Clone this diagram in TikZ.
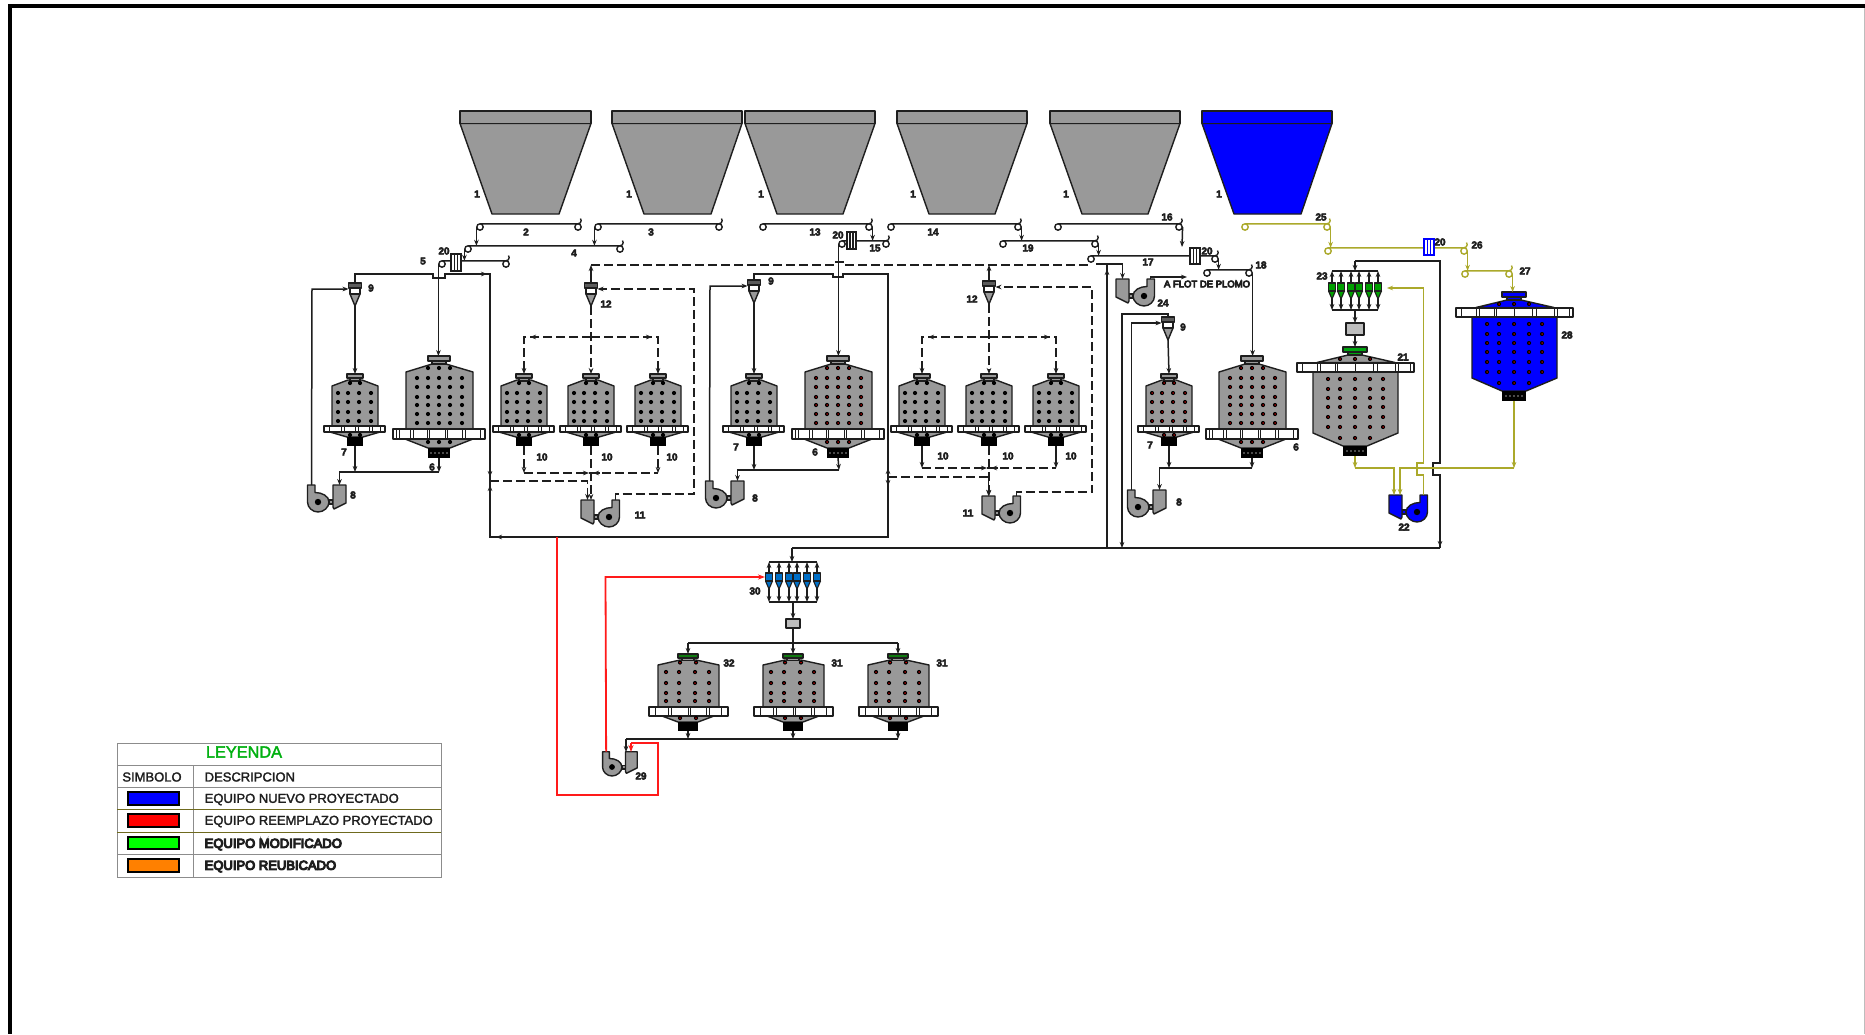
\documentclass[tikz,border=0pt]{standalone}
\usepackage{fontspec}
\setmainfont{Liberation Sans}
\newfontfamily\fbold[FakeBold=8]{Liberation Sans}
\newfontfamily\fmed[FakeBold=2]{Liberation Sans}
\newfontfamily\flab[UprightFont=* Bold,FakeBold=5]{Liberation Sans}
\usetikzlibrary{arrows.meta}
\definecolor{ink}{HTML}{1E1E1E}
\definecolor{eqgray}{HTML}{999999}
\definecolor{olive}{HTML}{ABA92B}
\definecolor{newblue}{HTML}{0000FF}
\definecolor{redline}{HTML}{FF1A1A}
\definecolor{bankblue}{HTML}{0070C8}
\definecolor{bankgreen}{HTML}{00A000}
\definecolor{capgreen}{HTML}{0F7A0F}
\definecolor{capbright}{HTML}{00A510}
\definecolor{legline}{HTML}{8C8C8C}
\definecolor{legolive}{HTML}{6F6A1E}
\definecolor{silver}{HTML}{BDBDBD}
\tikzset{
  x=1pt,y=-1pt,
  eq/.style={draw=ink,line width=1.4pt,line join=round},
  pipe/.style={draw=ink,line width=1.5pt},
  flow/.style={pipe,-{Stealth[length=6pt,width=4.6pt]}},
  dpipe/.style={pipe,dash pattern=on 9pt off 4pt},
  dflow/.style={flow,dash pattern=on 9pt off 4pt},
  ypipe/.style={draw=olive,line width=1.7pt},
  yflow/.style={ypipe,-{Stealth[length=6pt,width=4.6pt]}},
  rpipe/.style={draw=redline,line width=1.8pt},
  rflow/.style={rpipe,-{Stealth[length=7pt,width=5pt]}},
  lbl/.style={font=\flab\fontsize{10}{12}\selectfont,text=ink,inner sep=0pt},
  legt/.style={font=\fmed\fontsize{13}{15}\selectfont,text=ink,inner sep=0pt,anchor=west},
  legb/.style={font=\fbold\fontsize{13}{15}\selectfont,text=ink,inner sep=0pt,anchor=west},
  swatch/.style={draw=black,line width=1.3pt}
}
\newcounter{labn}
\newcommand\lab[3]{\stepcounter{labn}\node[lbl] (lab\arabic{labn}) at (#1,#2) {#3};}
\newcommand\ma[4]{\draw[flow,draw=#4] (#1,#2) -- ++(#3);}
% hopper: name, left x, right x, bottom left x, bottom right x, fill
\newcommand\hopper[6]{
  \filldraw[eq,fill=#6] (#2,123.5) -- (#4,214) -- (#5,214) -- (#3,123.5) -- cycle;
  \filldraw[eq,fill=#6] (#2,111) rectangle (#3,123.5);
  \coordinate (#1) at (#4,214);
}
% belt: name, xl, xr, y, colour
\newcommand\belt[5]{
  \draw[draw=#5,line width=1.4pt] (#2,#4-3.2) -- (#3,#4-3.2) arc[start angle=90,end angle=-40,radius=3.2];
  \draw[draw=#5,line width=1.4pt,fill=white] (#2,#4) circle[radius=3.2];
  \draw[draw=#5,line width=1.4pt,fill=white] (#3,#4) circle[radius=3.2];
  \coordinate (#1-t) at (#2,#4-3.2);
  \coordinate (#1-ld) at (#2-3.6,#4);
  \coordinate (#1-rd) at (#3+3.6,#4);
}
% weigher: name, x1, y1, x2, y2, colour
\newcommand\weigher[6]{
  \filldraw[draw=#6,line width=1.2pt,fill=white] (#2,#3) rectangle (#4,#5);
  \draw[draw=#6,line width=1.2pt] ({(2*#2+#4)/3},#3) -- ({(2*#2+#4)/3},#5) ({(#2+2*#4)/3},#3) -- ({(#2+2*#4)/3},#5);
  \coordinate (#1) at ({(#2+#4)/2},#3);
}
\newcommand\dotm[3]{\fill[black] (#1,#2) circle[radius=2.1]; \fill[#3] (#1,#2) circle[radius=.75];}
% small cell: name, cx, top, inner dot colour
\newcommand\cellS[4]{
 \begin{scope}[shift={(#2,#3)}]
  \filldraw[eq,fill=eqgray] (-25,58) -- (-8,63) -- (8,63) -- (25,58) -- cycle;
  \filldraw[eq,fill=eqgray] (-23,52) -- (-23,12) -- (-7,6) -- (7,6) -- (23,12) -- (23,52) -- cycle;
  \filldraw[eq,fill=eqgray] (-8,0) rectangle (8,4);
  \filldraw[eq,fill=eqgray] (-5,4) rectangle (5,7);
  \filldraw[eq,fill=white] (-31,52) rectangle (30,58);
  \foreach \t in {-26,-14,-11,0,3,14,17,25} \draw[eq,line width=.8pt] (\t,52) -- (\t,58);
  \fill[black] (-8,63) rectangle (8,72);
  \foreach \a in {-17,-7,4,16} \foreach \b in {19,28,38,47} {\dotm{\a}{\b}{#4}}
  \foreach \a in {-5,5} {\dotm{\a}{9}{#4}\dotm{\a}{61}{#4}}
  \coordinate (#1-t) at (0,0); \coordinate (#1-b) at (0,72);
 \end{scope}
}
% large cell
\newcommand\cellL[4]{
 \begin{scope}[shift={(#2,#3)}]
  \filldraw[eq,fill=eqgray] (-34,83) -- (-11,92) -- (11,92) -- (34,83) -- cycle;
  \filldraw[eq,fill=eqgray] (-33,73) -- (-33,16) -- (-7,8) -- (7,8) -- (34,16) -- (34,73) -- cycle;
  \filldraw[eq,fill=eqgray] (-11,0) rectangle (11,5);
  \filldraw[eq,fill=eqgray] (-7,5) rectangle (7,8);
  \filldraw[eq,fill=white] (-46,73) rectangle (46,83);
  \foreach \t in {-43,-40,-29,-26,-12,-10,6,8,23,26,41} \draw[eq,line width=.9pt] (\t,73) -- (\t,83);
  \fill[black] (-11,92) rectangle (11,102);
  \foreach \a in {-8,-4,0,4,8} \fill[eqgray] (\a,97) circle[radius=.8];
  \foreach \a in {-22,-11,0,11,23} \foreach \b in {22,31,41,49,58,67} {\dotm{\a}{\b}{#4}}
  \foreach \a in {-11,0,11} {\dotm{\a}{12}{#4}\dotm{\a}{86}{#4}}
  \coordinate (#1-t) at (0,0); \coordinate (#1-b) at (0,102);
 \end{scope}
}
% cell with high flange: name, cx, top, fill, cap fill
\newcommand\cellF[5]{
 \begin{scope}[shift={(#2,#3)}]
  \filldraw[eq,fill=#4] (-38,15.5) -- (-7,8) -- (7,8) -- (40,15.5) -- cycle;
  \filldraw[eq,fill=#4] (-42,25) -- (43,25) -- (43,86) -- (12,99) -- (-12,99) -- (-42,86) -- cycle;
  \filldraw[eq,fill=#5] (-12,0) rectangle (12,5);
  \filldraw[eq,fill=#5] (-7,5) rectangle (7,8);
  \filldraw[eq,fill=white] (-58,16) rectangle (59,25);
  \foreach \t in {-53,-38,-35,-20,-18,0,18,22,40,43,55} \draw[eq,line width=.9pt] (\t,16) -- (\t,25);
  \fill[black] (-12,99) rectangle (12,109);
  \foreach \a in {-8,-4,0,4,8} \fill[eqgray] (\a,104) circle[radius=.8];
  \foreach \a in {-27,-15,0,15,28} \foreach \b in {32,42,51,60,70,80} {\dotm{\a}{\b}{red}}
  \foreach \a in {-15,0,15} {\dotm{\a}{12}{red}\dotm{\a}{91}{red}}
  \coordinate (#1-t) at (0,0); \coordinate (#1-b) at (0,109);
 \end{scope}
}
% bottom row cell
\newcommand\cellB[3]{
 \begin{scope}[shift={(#2,#3)}]
  \filldraw[eq,fill=eqgray] (-26,62) -- (-10,68) -- (10,68) -- (26,62) -- cycle;
  \filldraw[eq,fill=eqgray] (-30,53) -- (-30,11) -- (-8,6) -- (8,6) -- (31,11) -- (31,53) -- cycle;
  \filldraw[eq,fill=capgreen] (-10,0) rectangle (10,4);
  \filldraw[eq,fill=eqgray] (-6,4) rectangle (6,6.5);
  \filldraw[eq,fill=white] (-39,53) rectangle (40,62);
  \foreach \t in {-33,-20,-17,0,2,18,21,33} \draw[eq,line width=.9pt] (\t,53) -- (\t,62);
  \fill[black] (-10,68) rectangle (10,77);
  \foreach \a in {-22,-9,7,21} \foreach \b in {18,29,39,47} {\dotm{\a}{\b}{red}}
  \foreach \a in {-8,8} {\dotm{\a}{8.5}{red}\dotm{\a}{64}{red}}
  \coordinate (#1-t) at (0,0); \coordinate (#1-b) at (0,77);
 \end{scope}
}
% cyclone: name, cx, top
\newcommand\cyc[3]{
 \begin{scope}[shift={(#2,#3)}]
  \filldraw[eq,fill=eqgray] (-5,11) -- (0,23) -- (5,11) -- cycle;
  \filldraw[eq,fill=white] (-5,5) rectangle (5,11);
  \filldraw[eq,fill=eqgray!60!black] (-6.5,0) rectangle (6.5,5);
  \coordinate (#1-t) at (0,0); \coordinate (#1-b) at (0,23);
  \coordinate (#1-w) at (-6.5,6); \coordinate (#1-e) at (6.5,6);
 \end{scope}
}
% fan with sump: name, cx, cy, dir, fill, scale
\newcommand\fan[6]{
 \begin{scope}[shift={(#2,#3)},xscale=#4*#6,yscale=#6]
  \filldraw[eq,fill=#5] (11,-2) rectangle (15,2);
  \filldraw[eq,fill=#5] (15,-17) -- (28,-17) -- (28,1) -- (16,7) -- (15,5) -- cycle;
  \filldraw[eq,fill=#5] (-10.5,-17) -- (-3,-17) -- (-3,-9.5) .. controls (4,-9.5) and (11,-6) .. (11,0) .. controls (11,5.5) and (5.5,10) .. (0,10) .. controls (-5.5,10) and (-10.5,5.5) .. (-10.5,0) -- cycle;
  \filldraw[draw=#5,line width=.8pt,fill=#5] (0,0) circle[radius=6];
  \fill[black] (0,0) circle[radius=3.2];
  \coordinate (#1-box) at (21.5,-17);
  \coordinate (#1-o) at (-6.5,-17);
 \end{scope}
}
% cyclone bank: fill, x list, first x, top header, bottom header, cyclone top, last x
\newcommand\bank[7]{
  \draw[pipe] (#3,#4) -- (#7,#4) (#3,#5) -- (#7,#5);
  \foreach \q in {#2} {
    \draw[flow] (\q,#6) -- (\q,#4);
    \draw[flow] (\q,#6+9) -- (\q,#5);
    \filldraw[eq,line width=1.1pt,fill=#1] (\q-3.5,#6+8) -- (\q,#6+16) -- (\q+3.5,#6+8) -- cycle;
    \filldraw[eq,line width=1.1pt,fill=#1] (\q-3.6,#6) rectangle (\q+3.6,#6+8);
  }
}
\begin{document}
\begin{tikzpicture}
\useasboundingbox (0,0) rectangle (1865,1034);
\fill[white] (0,0) rectangle (1865,1034);
% frame
\fill[black] (8,4) rectangle (1865,8);
\fill[black] (8,4) rectangle (12,1034);
\fill[silver] (1864,8) rectangle (1865,1034);

% hoppers
\hopper{h1}{460}{591}{492}{559}{eqgray}
\hopper{h2}{612}{742}{644}{711}{eqgray}
\hopper{h3}{745}{875}{777}{843}{eqgray}
\hopper{h4}{897}{1027}{929}{995}{eqgray}
\hopper{h5}{1050}{1180}{1082}{1148}{eqgray}
\hopper{h6}{1202}{1332}{1234}{1301}{newblue}

% equipment
\cellS{c7a}{355}{374}{black}
\cellL{c6a}{439}{356}{black}
\cellS{c10a}{524}{374}{black}
\cellS{c10b}{591}{374}{black}
\cellS{c10c}{658}{374}{black}
\cellS{c7b}{754}{374}{black}
\cellL{c6b}{838}{356}{red}
\cellS{c10d}{922}{374}{black}
\cellS{c10e}{989}{374}{black}
\cellS{c10f}{1056}{374}{black}
\cellS{c7c}{1169}{374}{red}
\cellL{c6c}{1252}{356}{red}
\cellF{c21}{1355}{347}{eqgray}{capbright}
\cellF{c28}{1514}{292}{newblue}{newblue}
\cellB{c32}{688}{654}
\cellB{c31a}{793}{654}
\cellB{c31b}{898}{654}
\cyc{cyA}{355}{283}
\cyc{cyB}{754}{280}
\cyc{cyC}{1168}{317}
\cyc{cyD}{591}{283}
\cyc{cyE}{989}{281}
\fan{fA}{318}{502}{1}{eqgray}{1}
\fan{fB}{716}{498}{1}{eqgray}{1}
\fan{fC}{1138}{507}{1}{eqgray}{1}
\fan{fD}{609}{517}{-1}{eqgray}{1}
\fan{fE}{1010}{513}{-1}{eqgray}{1}
\fan{f24}{1144}{296}{-1}{eqgray}{1}
\fan{f22}{1417}{512}{-1}{newblue}{1}
\fan{f29}{612}{767}{1}{eqgray}{.9}
\filldraw[eq,fill=silver] (1346,323) rectangle (1364,335);
\filldraw[eq,fill=silver] (786,619) rectangle (800,628);

% named junctions
\foreach \n/\x/\y in {
 r1/355/274,r2/433/274,r3/433/278,r4/445/278,r5/445/274,r6/490/274,r7/490/537,r8/888/537,r9/888/274,
 r10/843/274,r11/843/277,r12/833/277,r13/833/274,r14/754/274,
 d1/591/265,d2/833/265,d3/833/262,d4/843/262,d5/843/265,d6/1089/265,d7/989/265,
 s1/1096/264,s2/1122.5/264,
 k1/312/289,k2/710/286,k3/1131.5/323,
 e1/355/472,e2/439/472,e3/339.5/472,
 e4/754/470,e5/839/470,e6/737.5/470,
 e7/1169/468,e8/1252/468,e9/1159.5/468,
 g1/615.5/494,g2/694/494,g3/694/289,
 g4/524/337,g5/658/337,g6/591/337,
 g7/524/473,g8/658/473,g9/591/473,g10/591/500,
 g11/490/481,g12/587.5/481,
 h21/1016.5/492,h22/1092/492,h23/1092/287,
 h24/922/337,h25/1056/337,h26/989/337,
 h27/922/468,h28/1056/468,h29/989/468,h30/989/496,
 h31/888/477,h32/988.5/477,
 m1/1107/548,m2/1107/265,m3/1122/314,m4/1122/548,m5/792/548,m6/792/562,m7/1440/548,
 m8/1440/475,m9/1433/475,m10/1433/463,m11/1440/463,m12/1440/261,m13/1355/261,m14/1355/271,
 flot/1187/277,drop16/1182/247,drop25/1331/247,
 v1/1355/310,v2/1355/323,v3/1355/335,
 y1/1514/468,y2/1400/468,y3/1400/495,y4/1355/468,y5/1394/468,y6/1394/495,
 y7/1423.5/475,y8/1417/475,y9/1417/463,y10/1423.5/463,y11/1423.5/288,y12/1387/288,
 q1/793/602,q2/793/619,q3/793/628,q4/793/643,q5/688/643,q6/898/643,
 t1/688/739,t2/793/739,t3/898/739,t4/626/739,t5/626/752,
 u1/557/537,u2/557/795,u3/658/795,u4/658/743,u5/631/743,u6/631/752,
 u7/605.5/577,u8/765/577} \coordinate (\n) at (\x,\y);

% belts
\belt{b2}{480}{578}{227}{ink}
\belt{b3}{598}{719}{227}{ink}
\belt{b4}{468}{620}{249}{ink}
\belt{b5}{442}{506}{264}{ink}
\belt{b13}{763}{869}{227}{ink}
\belt{b15}{842}{886}{244}{ink}
\belt{b14}{891}{1018}{227}{ink}
\belt{b19}{1003}{1095}{244}{ink}
\belt{b16}{1058}{1179}{227}{ink}
\belt{b17}{1091}{1215}{259}{ink}
\belt{b18}{1207}{1249}{273}{ink}
\belt{b25}{1245}{1327}{227}{olive}
\belt{b26}{1328}{1464}{251}{olive}
\belt{b27}{1465}{1509}{274}{olive}

% belt drops
\draw[flow] (b2-ld) -- (b2-ld |- b4-t);
\draw[flow] (b3-ld) -- (b3-ld |- b4-t);
\draw[flow] (b4-ld) -- (b4-ld |- b5-t);
\draw[flow] (b5-ld) -- (b5-ld |- c6a-t);
\draw[flow] (b13-rd) -- (b13-rd |- b15-t);
\draw[flow] (b15-ld) -- (b15-ld |- c6b-t);
\draw[flow] (b14-rd) -- (b14-rd |- b19-t);
\draw[flow] (b19-rd) -- (b19-rd |- b17-t);
\draw[flow] (b16-rd) -- (drop16);
\draw[flow] (b17-rd) -- (b17-rd |- b18-t);
\draw[flow] (b18-rd) -- (b18-rd |- c6c-t);
\draw[yflow] (b25-rd) -- (b25-rd |- b26-t);
\draw[yflow] (b26-rd) -- (b26-rd |- b27-t);
\draw[yflow] (b27-rd) -- (b27-rd |- c28-t);

% weighers
\weigher{w1}{451}{254}{461}{271}{ink}
\weigher{w2}{847}{232}{856}{249}{ink}
\weigher{w3}{1190}{248}{1200}{264}{ink}
\weigher{w4}{1424}{239}{1434}{255}{newblue}

% main overflow pipe
\draw[pipe] (cyA-t) -- (r1) -- (r2) -- (r3) -- (r4) -- (r5) -- (r6) -- (r7) -- (r8) -- (r9) -- (r10) -- (r11) -- (r12) -- (r13) -- (r14) -- (cyB-t);
\ma{478}{274}{9,0}{ink}
\ma{505}{537}{-9,0}{ink}
\ma{490}{472}{0,5}{ink}
\ma{490}{490}{0,-5}{ink}
\ma{888}{473}{0,-5}{ink}
\ma{888}{481}{0,5}{ink}

% circuit columns, solid
\draw[flow] (cyA-b) -- (c7a-t);
\draw[flow] (c7a-b) -- (e1);
\draw[flow] (c6a-b) -- (e2);
\draw[flow] (e2) -- (e3) -- (fA-box);
\draw[flow] (fA-o) -- (k1) -- (cyA-w);
\draw[flow] (cyB-b) -- (c7b-t);
\draw[flow] (c7b-b) -- (e4);
\draw[flow] (c6b-b) -- (e5);
\draw[flow] (e5) -- (e6) -- (fB-box);
\draw[flow] (fB-o) -- (k2) -- (cyB-w);
\draw[flow] (cyC-b) -- (c7c-t);
\draw[flow] (c7c-b) -- (e7);
\draw[flow] (c6c-b) -- (e8);
\draw[flow] (e8) -- (e9) -- (fC-box);
\draw[flow] (fC-o) -- (k3) -- (cyC-w);

% dashed header
\draw[dpipe] (d1) -- (d2) -- (d3) -- (d4) -- (d5) -- (d6);
\draw[flow] (cyD-t) -- (d1);
\draw[flow] (cyE-t) -- (d7);
\draw[flow] (s1) -- (s2) -- (f24-box);
\draw[flow] (f24-o) |- (flot);

% dashed circuit 1
\draw[dflow] (fD-o) -- (g1) -- (g2) -- (g3) -- (cyD-e);
\draw[dflow] (cyD-b) -- (c10b-t);
\draw[dflow] (g6) -- (g4) -- (c10a-t);
\draw[dflow] (g6) -- (g5) -- (c10c-t);
\ma{538}{337}{-8,0}{ink}
\ma{644}{337}{8,0}{ink}
\draw[dflow] (c10a-b) -- (g7);
\draw[dflow] (c10c-b) -- (g8);
\draw[dpipe] (g7) -- (g8);
\draw[dflow] (c10b-b) -- (g10);
\draw[dflow] (g11) -- (g12) -- (fD-box);
\ma{600}{473}{-7,0}{ink}
\ma{582}{473}{7,0}{ink}

% dashed circuit 2
\draw[dflow] (fE-o) -- (h21) -- (h22) -- (h23) -- (cyE-e);
\draw[dflow] (cyE-b) -- (c10e-t);
\draw[dflow] (h26) -- (h24) -- (c10d-t);
\draw[dflow] (h26) -- (h25) -- (c10f-t);
\ma{936}{337}{-8,0}{ink}
\ma{1042}{337}{8,0}{ink}
\draw[flow] (c10d-b) -- (h27);
\draw[flow] (c10f-b) -- (h28);
\draw[dpipe] (h27) -- (h28);
\draw[dflow] (c10e-b) -- (h30);
\draw[dflow] (h31) -- (h32) -- (fE-box);
\ma{998}{468}{-7,0}{ink}
\ma{980}{468}{7,0}{ink}

% long black lines
\draw[pipe] (m1) -- (m2);
\ma{1107}{278}{0,-9}{ink}
\draw[flow] (cyC-t) |- (m3) -- (m4);
\draw[pipe] (m5) -- (m7);
\draw[flow] (m5) -- (m6);
\draw[pipe] (m7) -- (m8) -- (m9) -- (m10) -- (m11) -- (m12) -- (m13);
\draw[flow] (m13) -- (m14);
\ma{1440}{538}{0,9}{ink}

% bank 23
\bank{bankgreen}{1332,1341,1351,1359,1369,1378}{1332}{271}{310}{283}{1378}
\draw[flow] (v1) -- (v2);
\draw[flow] (v3) -- (c21-t);

% olive flows
\draw[yflow] (c28-b) -- (y1);
\draw[yflow] (y1) -- (y2) -- (y3);
\draw[yflow] (c21-b) -- (y4);
\draw[yflow] (y4) -- (y5) -- (y6);
\draw[yflow] (f22-o) -- (y7) -- (y8) -- (y9) -- (y10) -- (y11) -- (y12);

% bank 30
\bank{bankblue}{769,779,789,797,807,817}{769}{562}{602}{573}{817}
\draw[flow] (q1) -- (q2);
\draw[pipe] (q3) -- (q4);
\draw[pipe] (q5) -- (q6);
\draw[flow] (q5) -- (c32-t);
\draw[flow] (q4) -- (c31a-t);
\draw[flow] (q6) -- (c31b-t);
\draw[flow] (c32-b) -- (t1);
\draw[flow] (c31a-b) -- (t2);
\draw[flow] (c31b-b) -- (t3);
\draw[pipe] (t3) -- (t4);
\draw[flow] (t4) -- (t5);

% red lines
\draw[rpipe] (u1) -- (u2) -- (u3) -- (u4) -- (u5);
\draw[rflow] (u5) -- (u6);
\draw[rflow] (f29-o) -- (u7) -- (u8);

% labels
\lab{477}{194}{1}\lab{629}{194}{1}\lab{761}{194}{1}\lab{913}{194}{1}\lab{1066}{194}{1}\lab{1219}{194}{1}
\lab{526}{232}{2}\lab{651}{232}{3}\lab{574}{253}{4}\lab{444}{251}{20}\lab{423}{261}{5}
\lab{371}{288}{9}\lab{606}{304}{12}\lab{344}{452}{7}\lab{432}{467}{6}\lab{353}{495}{8}
\lab{542}{457}{10}\lab{607}{457}{10}\lab{672}{457}{10}\lab{640}{515}{11}
\lab{815}{232}{13}\lab{838}{235}{20}\lab{875}{248}{15}\lab{933}{232}{14}\lab{1028}{248}{19}
\lab{771}{281}{9}\lab{736}{447}{7}\lab{815}{452}{6}\lab{755}{498}{8}\lab{972}{299}{12}
\lab{943}{456}{10}\lab{1008}{456}{10}\lab{1071}{456}{10}\lab{968}{513}{11}
\lab{1167}{217}{16}\lab{1148}{262}{17}\lab{1207}{251}{20}\lab{1261}{265}{18}\lab{1163}{303}{24}
\lab{1183}{327}{9}\lab{1150}{445}{7}\lab{1296}{447}{6}\lab{1179}{502}{8}
\lab{1403}{357}{21}\lab{1404}{527}{22}\lab{1322}{276}{23}\lab{1321}{217}{25}\lab{1477}{245}{26}
\lab{1440}{242}{20}\lab{1525}{271}{27}\lab{1567}{335}{28}
\lab{755}{591}{30}\lab{729}{663}{32}\lab{837}{663}{31}\lab{942}{663}{31}\lab{641}{776}{29}
\node[lbl,font=\fbold\fontsize{9.5}{11}\selectfont] (flottxt) at (1207,284) {A FLOT DE PLOMO};

% legend
\draw[legline,line width=1pt] (117,743) rectangle (441,877);
\draw[legline,line width=1pt] (117,765) -- (441,765) (117,787) -- (441,787) (117,854) -- (441,854) (193,765) -- (193,877);
\draw[legolive,line width=1pt] (117,809) -- (441,809) (117,832) -- (441,832);
\node[inner sep=0pt,font=\fmed\fontsize{16.3}{18}\selectfont,text={rgb,255:red,0;green,176;blue,16}] (legtitle) at (244,752) {LEYENDA};
\node[inner sep=0pt,font=\fmed\fontsize{13}{15}\selectfont,text=ink] (legsim) at (152,777) {SIMBOLO};
\node[legt] (legdes) at (204.5,777) {DESCRIPCION};
\node[legt] (leg1) at (204.5,799.5) {EQUIPO NUEVO PROYECTADO};
\node[legt] (leg2) at (204.5,821.5) {EQUIPO REEMPLAZO PROYECTADO};
\node[legb] (leg3) at (204.5,844.5) {EQUIPO MODIFICADO};
\node[legb] (leg4) at (204.5,866.5) {EQUIPO REUBICADO};
\filldraw[swatch,fill=newblue] (128,792) rectangle (179,805);
\filldraw[swatch,fill=red] (128,814) rectangle (179,827);
\filldraw[swatch,fill={rgb,255:red,0;green,255;blue,0}] (128,837) rectangle (179,849);
\filldraw[swatch,fill={rgb,255:red,255;green,128;blue,0}] (128,859) rectangle (179,872);
\end{tikzpicture}
\end{document}
